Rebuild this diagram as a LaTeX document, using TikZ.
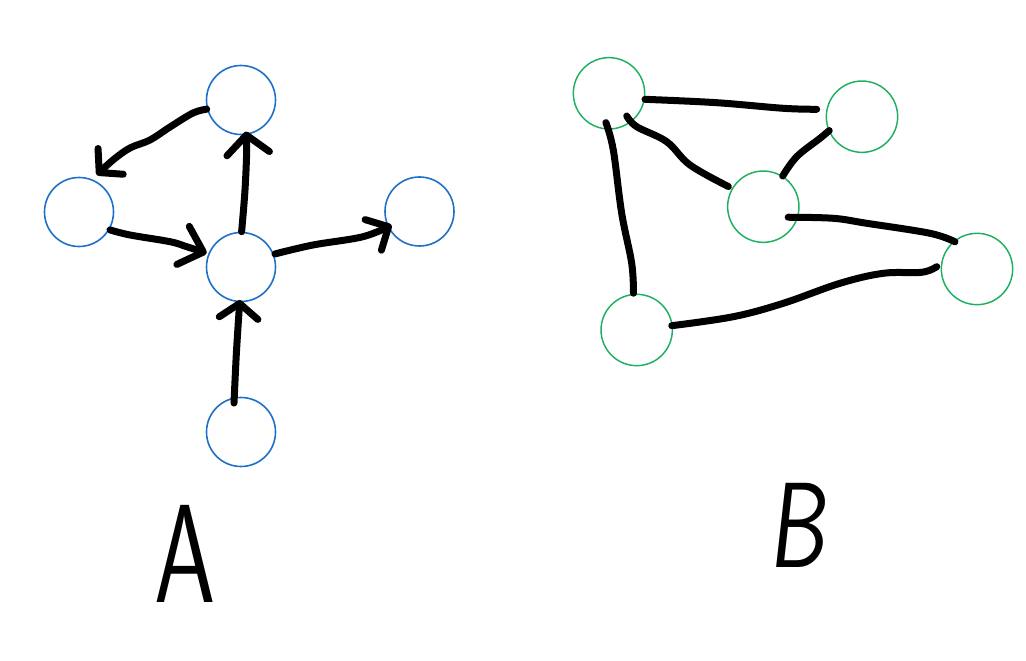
\documentclass[tikz,border=0pt]{standalone}
\usetikzlibrary{arrows.meta}
\definecolor{nodeblue}{RGB}{30,112,200}
\definecolor{nodegreen}{RGB}{30,176,96}
\begin{document}
\begin{tikzpicture}[x=0.75pt,y=0.75pt,
  anode/.style={circle,draw=nodeblue,line width=1.2pt,minimum size=51.75pt,inner sep=0pt},
  bnode/.style={circle,draw=nodegreen,line width=1.1pt,minimum size=53.5pt,inner sep=0pt},
  link/.style={line width=5.25pt,line cap=round,line join=round},
  tip/.style 2 args={-{Straight Barb[length=#1,width=#2,round]}},
  letter/.style={inner sep=0pt,font=\sffamily}]
\useasboundingbox (0,0) rectangle (1026,661);
% graph A
\node[anode] (a1) at (241,561) {};
\node[anode] (a2) at (79,449) {};
\node[anode] (a3) at (241,394) {};
\node[anode] (a4) at (419.5,449.5) {};
\node[anode] (a5) at (241,229) {};
% graph B
\node[bnode] (b1) at (609,567.7) {};
\node[bnode] (b2) at (862,544.3) {};
\node[bnode] (b3) at (763.3,454.3) {};
\node[bnode] (b4) at (977,392) {};
\node[bnode] (b5) at (636.7,331) {};
% directed edges
\draw[link,tip={12pt}{27pt}] plot[smooth,tension=0.6] coordinates {([shift={(195:35.5)}]a1.center) (193,548) (170,534) (150,521) (130,513) (113,501) ([shift={(64.4:41)}]a2.center)};
\draw[link,tip={16pt}{30pt}] plot[smooth,tension=0.6] coordinates {([shift={(-30:35.8)}]a2.center) (130,426) (170,419.3) (186.7,414.3) ([shift={(158:37)}]a3.center)};
\draw[link,tip={14pt}{32pt}] plot[smooth,tension=0.6] coordinates {([shift={(89:35.3)}]a3.center) (245,471) (246.7,511) ([shift={(-81:32)}]a1.center)};
\draw[link,tip={13pt}{26pt}] plot[smooth,tension=0.6] coordinates {([shift={(21:36.4)}]a3.center) (313,416) (363,424.3) ([shift={(206:31)}]a4.center)};
\draw[link,tip={11pt}{29pt}] plot[smooth,tension=0.6] coordinates {([shift={(103.6:29.8)}]a5.center) (236.5,310) ([shift={(-92:33)}]a3.center)};
% undirected edges
\draw[link] plot[smooth,tension=0.6] coordinates {([shift={(-9.5:36.5)}]b1.center) (716.7,558.3) (783.3,552.7) ([shift={(170.7:45.9)}]b2.center)};
\draw[link] plot[smooth,tension=0.6] coordinates {([shift={(-52:28.8)}]b1.center) (636.7,534.3) (666.7,519.3) (690,496) ([shift={(150:40.3)}]b3.center)};
\draw[link] plot[smooth,tension=0.6] coordinates {([shift={(203:35.6)}]b2.center) (820,522.7) (796.7,504.3) ([shift={(57.7:36.3)}]b3.center)};
\draw[link] plot[smooth,tension=0.6] coordinates {([shift={(-23:27)}]b3.center) (833.3,442.7) (866.7,437.7) (930,427.7) ([shift={(129:35)}]b4.center)};
\draw[link] plot[smooth,tension=0.6] coordinates {([shift={(-96:29.5)}]b1.center) (613.3,511) (621.7,447.7) (631.7,397.7) ([shift={(95:36.9)}]b5.center)};
\draw[link] plot[smooth,tension=0.6] coordinates {([shift={(7:35.3)}]b5.center) (733.3,344.3) (783.3,357.7) (840,377.7) (883.3,387.7) (921.7,388.7) ([shift={(176.7:40.3)}]b4.center)};
% labels
\node[letter,xscale=0.7] (la) at (185.5,107.5) {\fontsize{105pt}{105pt}\selectfont A};
\node[letter,xscale=0.75,xslant=0.15] (lb) at (802,136) {\fontsize{91pt}{91pt}\selectfont B};
\end{tikzpicture}
\end{document}
